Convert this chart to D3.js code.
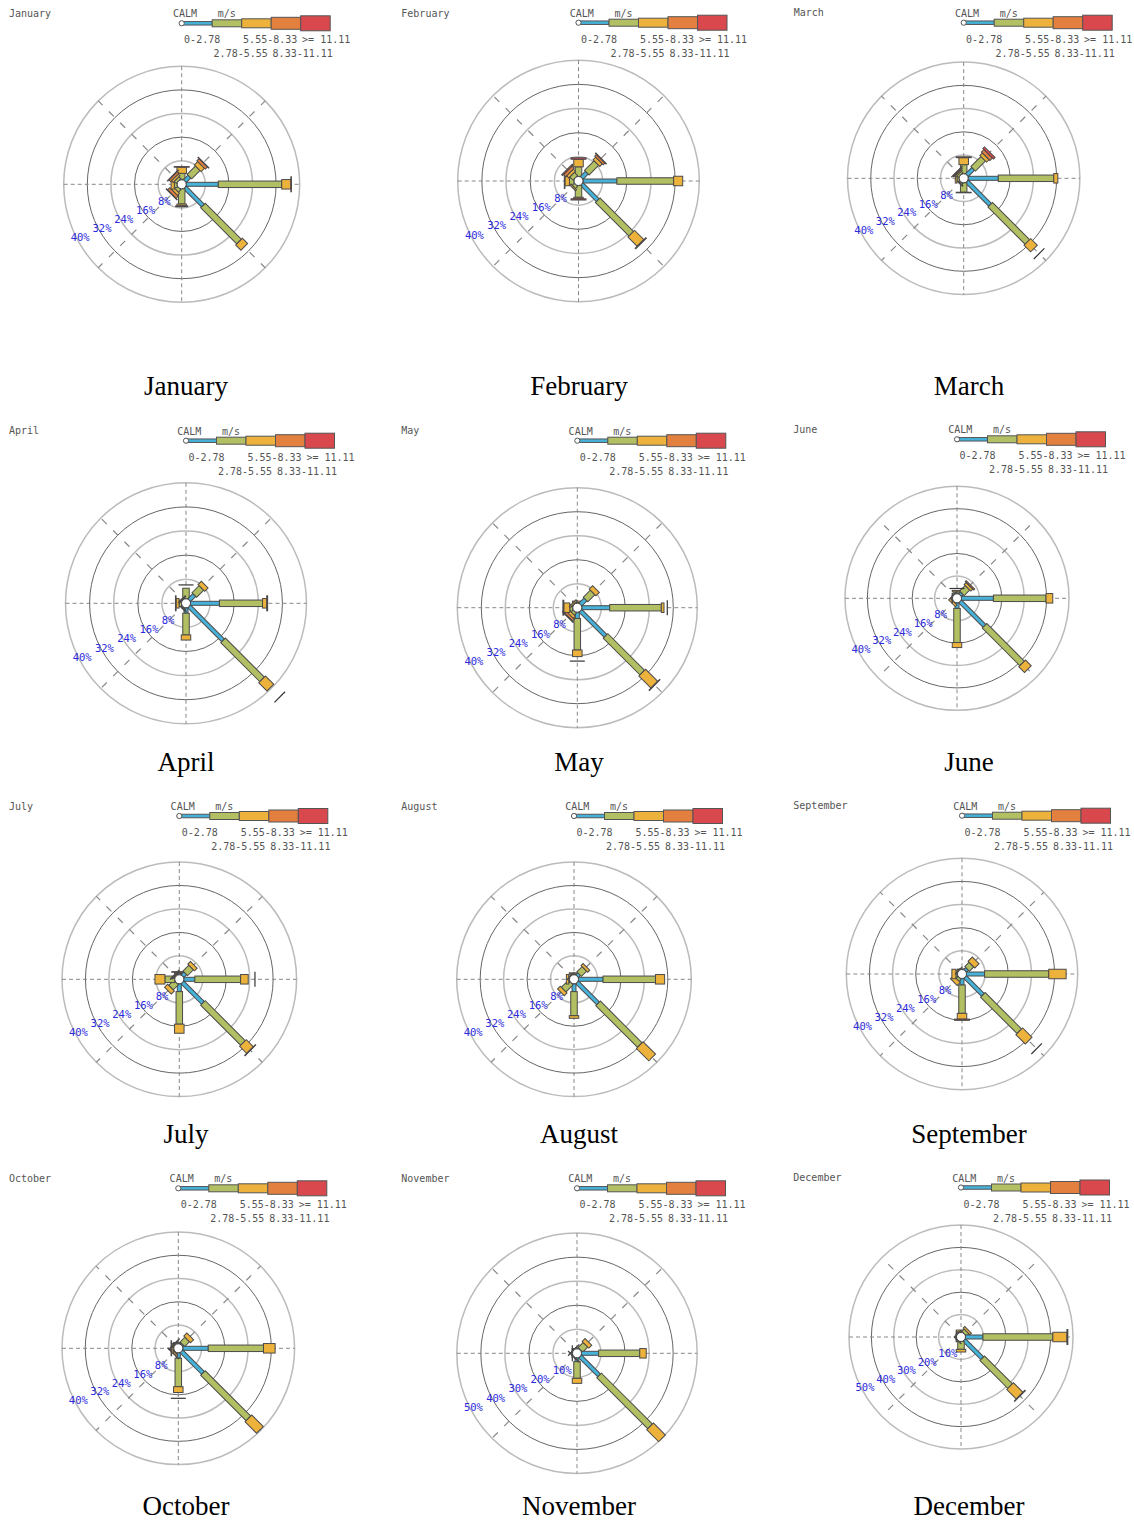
<!DOCTYPE html>
<html><head><meta charset="utf-8">
<script src="https://cdn.jsdelivr.net/npm/d3@7"></script>
<style>body{margin:0;background:#fff}svg{display:block}</style>
</head><body><svg id="c" width="1134" height="1521"></svg>
<script>
// ---------------- DATA ----------------
const months = ["January","February","March","April","May","June","July","August","September","October","November","December"];
const directions = ["N","NE","E","SE","S","SW","W","NW"];
const speedClasses = ["0-2.78","2.78-5.55","5.55-8.33","8.33-11.11",">= 11.11"];
const unitLabel = "m/s";
const calmLabel = "CALM";
const ticks8 = [8,16,24,32,40];
const ticks10 = [10,20,30,40,50];

// percent frequency per direction (N..NW), per speed class [0-2.78, 2.78-5.55, 5.55-8.33, 8.33-11.11, >=11.11]
const freqJan = [[1.7,2.0,2.1,0,0.2],[3.7,4.0,1.6,1.0,0.2],[12.4,21.5,3.1,0,0.2],[10.2,17.3,2.5,0,0],[1.5,5.2,0.6,0.3,0],[1.5,1.2,1.0,1.0,0.2],[1.5,1.0,1.1,0,0],[1.5,1.0,0.8,0.8,0.2]];
const freqFeb = [[1.5,3.2,2.5,0,0.5],[3.9,4.5,1.2,0.8,0.2],[12.7,18.8,3.0,0,0],[9.0,15.7,4.3,0,0.3],[1.2,4.2,0.5,0,0.4],[1.5,1.0,0.5,0,0],[1.5,1.5,1.5,0,0.2],[1.5,1.5,1.0,1.0,0.4]];
const freqMar = [[1.5,3.2,2.4,0,0.3],[4.6,4.9,1.2,1.2,0.8],[11.9,19.1,1.4,0,0],[12.9,18.1,3.2,0,0],[1.5,3.3,0,0,0.2],[1.5,0.5,0.3,0,0],[1.5,0.8,0.6,0,0],[1.5,0.8,0.5,0.4,0.1]];
const freqApr = [[1.5,3.5,0,0,0],[3.9,3.3,1.6,0,0],[11.1,14.3,1.4,0,0.3],[17.4,18.3,3.9,0,0],[3.3,7.2,1.7,0,0],[1.2,0.4,0.3,0.2,0],[1.5,0.8,1.0,0,0.2],[1.2,0.5,0.3,0,0]];
const freqMay = [[1.2,0.5,0.5,0,0],[3.9,3.3,1.6,0,0],[10.8,17.2,0.9,0,0],[13.3,17.3,5.7,0,0.2],[3.6,10.5,2.2,0,0],[1.5,1.0,1.0,0.8,0.2],[1.5,1.0,2.0,0,0.3],[1.2,0.5,0.5,0,0]];
const freqJun = [[1.5,0.8,0.5,0,0],[2.5,2.8,1.0,0.5,0],[13.0,18.8,2.4,0,0],[13.9,19.0,2.9,0,0],[3.6,12.2,1.8,0,0],[1.2,0.5,0.8,0,0],[1.0,0.3,0.2,0,0],[1.0,0.3,0.2,0,0]];
const freqJul = [[1.2,0.8,0.4,0,0.2],[2.9,2.8,1.3,0,0],[5.3,15.6,2.6,0,0],[11.4,19.3,3.4,0,0.2],[4.2,11.1,3.1,0,0],[1.5,2.5,1.5,0,0],[1.5,3.4,3.4,0,0],[1.2,0.6,0.3,0.2,0]];
const freqAug = [[1.2,0.6,0.4,0,0],[2.5,2.5,1.0,0,0],[9.9,17.9,3.1,0,0],[11.6,20.1,6.0,0,0],[4.2,8.2,0.9,0,0],[1.5,3.5,1.3,0,0],[1.2,0.6,0.8,0,0],[1.0,0.4,0.2,0,0]];
const freqSep = [[1.0,0.4,0.2,0,0],[2.5,2.1,2.1,0,0],[7.8,22.2,6.0,0,0],[10.2,17.8,4.6,0,0],[3.8,9.8,2.0,0,0.4],[1.5,1.0,1.5,0,0],[1.3,0.8,1.4,0,0],[1.0,0.4,0.2,0,0]];
const freqOct = [[1.2,0.5,0.3,0,0],[2.0,2.3,1.5,0,0],[10.3,19.0,4.0,0,0],[12.0,22.1,5.6,0,0],[3.4,9.8,2.0,0,0],[1.2,0.6,0.6,0,0.1],[1.2,0.6,0.5,0,0.2],[1.2,0.5,0.3,0,0.1]];
const freqNov = [[1.0,0.5,0.3,0,0],[2.0,3.0,1.7,0,0],[9.0,17.1,2.7,0,0],[13.0,30.0,7.0,0,0],[3.5,6.9,2.1,0,0],[1.0,0.4,0.3,0,0.1],[1.0,0.4,0.3,0,0.1],[1.0,0.4,0.2,0,0.1]];
const freqDec = [[1.5,0.8,0.8,0,0],[2.0,1.5,1.0,0,0],[9.8,31.2,6.3,0,0.4],[13.4,17.6,6.0,0,0.3],[2.0,3.5,1.2,0,0],[1.0,0.4,0.3,0,0],[1.0,0.4,0.3,0,0],[1.0,0.4,0.3,0,0]];
const monthFreqs = [freqJan,freqFeb,freqMar,freqApr,freqMay,freqJun,freqJul,freqAug,freqSep,freqOct,freqNov,freqDec];
const monthTicks = [ticks8,ticks8,ticks8,ticks8,ticks8,ticks8,ticks8,ticks8,ticks8,ticks8,ticks10,ticks10];

// detached end markers (month, direction, percent)
const tailMonths = ["March","April","April","May","May","June","July","September","October"];
const tailDirs   = ["SE","SE","N","E","S","N","E","SE","S"];
const tailPcts   = [36.7,44,6.1,30,17.8,3.5,25.8,36.5,17.2];

// ---------------- STYLE / LAYOUT ----------------
const classColors = ["#46b1d9","#b2bf63","#ecb23c","#e3803f","#d8484d"];
const classWidths = [4,6.5,9.5,12,15];
const legendHeights = [3.5,7,9,12,15];
const layout = [
  {tx:9,ty:16.5,cx:181.7,cy:184.3,R:118,ly:23.3,capX:186,capY:395},
  {tx:401.3,ty:16.5,cx:578.5,cy:181,R:120.8,ly:22.7,capX:579,capY:395},
  {tx:793.7,ty:16,cx:963.7,cy:178.3,R:116.2,ly:22.7,capX:969,capY:395},
  {tx:9,ty:433.5,cx:186,cy:603.3,R:120.5,ly:440.7,capX:186,capY:771},
  {tx:401.3,ty:433.5,cx:577.3,cy:607.7,R:120,ly:440.7,capX:579,capY:771},
  {tx:793.3,ty:433,cx:957,cy:598.3,R:112,ly:439.3,capX:969,capY:771},
  {tx:9,ty:809.5,cx:179.3,cy:979.3,R:117.3,ly:816,capX:186,capY:1143},
  {tx:401.3,ty:809.5,cx:574,cy:979.3,R:117.3,ly:816,capX:579,capY:1143},
  {tx:793.3,ty:808.5,cx:962,cy:974,R:115.7,ly:815.7,capX:969,capY:1143},
  {tx:9,ty:1181.5,cx:178.3,cy:1348.3,R:116.3,ly:1188.3,capX:186,capY:1515},
  {tx:401.3,ty:1181.5,cx:577,cy:1353.3,R:120.2,ly:1188.3,capX:579,capY:1515},
  {tx:793.3,ty:1181,cx:961,cy:1337,R:112,ly:1187.5,capX:969,capY:1515}
];
const mono = "'DejaVu Sans Mono', 'Liberation Mono', monospace";
const svg = d3.select("#c");
const calmR = 4.5;
const wsw = 22.5 * Math.PI / 180;

months.forEach((m, mi) => {
  const L = layout[mi];
  const ticks = monthTicks[mi];
  const data = monthFreqs[mi];
  const r = d3.scaleLinear().domain([0, d3.max(ticks)]).range([0, L.R]);
  const root = svg.append("g");

  root.append("text").attr("x", L.tx).attr("y", L.ty).text(m)
    .attr("font-family", mono).attr("font-size", 10).attr("fill", "#555");

  // legend
  const lg = root.append("g").attr("transform", `translate(${L.cx},${L.ly})`);
  const barX = i => 1 + i * 29.5;
  lg.selectAll("rect").data(speedClasses).join("rect")
    .attr("x", (d, i) => barX(i)).attr("width", 29.5)
    .attr("y", (d, i) => -legendHeights[i] / 2).attr("height", (d, i) => legendHeights[i])
    .attr("fill", (d, i) => classColors[i]).attr("stroke", "#555").attr("stroke-width", 1);
  lg.append("circle").attr("r", 2.6).attr("fill", "#fff").attr("stroke", "#555").attr("stroke-width", 1);
  lg.append("text").attr("x", -8.7).attr("y", -6).text(calmLabel)
    .attr("font-family", mono).attr("font-size", 10).attr("fill", "#555");
  lg.append("text").attr("x", 36).attr("y", -6).text(unitLabel)
    .attr("font-family", mono).attr("font-size", 10).attr("fill", "#555");
  lg.selectAll("text.cl").data(speedClasses).join("text").attr("class", "cl")
    .attr("x", (d, i) => barX(i) + 1.4).attr("y", (d, i) => i % 2 === 0 ? 20 : 34)
    .text(d => d).attr("font-family", mono).attr("font-size", 10).attr("fill", "#555");

  // rose
  const g = root.append("g").attr("transform", `translate(${L.cx},${L.cy})`);
  g.selectAll("circle.ring").data(ticks).join("circle").attr("class", "ring")
    .attr("r", d => r(d)).attr("fill", "none")
    .attr("stroke", (d, i) => i % 2 === 1 ? "#666" : "#bbb")
    .attr("stroke-width", (d, i) => i % 2 === 1 ? 1 : 1.5);
  [0, 90].forEach(a => {
    const t = a * Math.PI / 180;
    g.append("line")
      .attr("x1", -L.R * Math.cos(t)).attr("y1", -L.R * Math.sin(t))
      .attr("x2", L.R * Math.cos(t)).attr("y2", L.R * Math.sin(t))
      .attr("stroke", "#888").attr("stroke-width", 1).attr("stroke-dasharray", "4,3");
  });
  [45, 135, 225, 315].forEach(a => {
    const t = a * Math.PI / 180;
    g.append("line").attr("x1", 0).attr("y1", 0)
      .attr("x2", L.R * Math.cos(t)).attr("y2", L.R * Math.sin(t))
      .attr("stroke", "#888").attr("stroke-width", 1.2).attr("stroke-dasharray", "7,9");
  });

  // arms
  directions.forEach((dir, di) => {
    const vals = data[di];
    const ag = g.append("g").attr("transform", `rotate(${di * 45 - 90})`);
    let cum = 0;
    const segs = [];
    vals.forEach((v, ci) => {
      const start = ci === 0 ? calmR : Math.max(calmR, r(cum));
      cum += v;
      const end = Math.max(calmR, r(cum));
      if (v > 0) segs.push({ci, start, end});
    });
    ag.selectAll("rect").data(segs).join("rect")
      .attr("x", d => d.start).attr("width", d => Math.max(0.3, d.end - d.start))
      .attr("y", d => -classWidths[d.ci] / 2).attr("height", d => classWidths[d.ci])
      .attr("fill", d => classColors[d.ci]).attr("stroke", "#4a4a4a").attr("stroke-width", 1);
  });

  tailMonths.forEach((tm, k) => {
    if (tm !== m) return;
    const di = directions.indexOf(tailDirs[k]);
    g.append("g").attr("transform", `rotate(${di * 45 - 90})`)
      .append("line").attr("x1", r(tailPcts[k])).attr("x2", r(tailPcts[k]))
      .attr("y1", -7.5).attr("y2", 7.5).attr("stroke", "#333").attr("stroke-width", 1.2);
  });

  g.append("circle").attr("r", calmR).attr("fill", "#fff").attr("stroke", "#444").attr("stroke-width", 1);

  g.selectAll("text.pl").data(ticks).join("text").attr("class", "pl")
    .attr("x", d => -r(d) * Math.cos(wsw) - 2)
    .attr("y", d => r(d) * Math.sin(wsw) + 11.5)
    .text(d => d + "%")
    .attr("font-family", mono).attr("font-size", 10.5).attr("fill", "#2b2bdd");

  svg.append("text").attr("x", L.capX).attr("y", L.capY).attr("text-anchor", "middle")
    .text(m).attr("font-family", "'Liberation Serif','Times New Roman',serif")
    .attr("font-size", 27).attr("fill", "#000");
});
</script>
</body></html>
